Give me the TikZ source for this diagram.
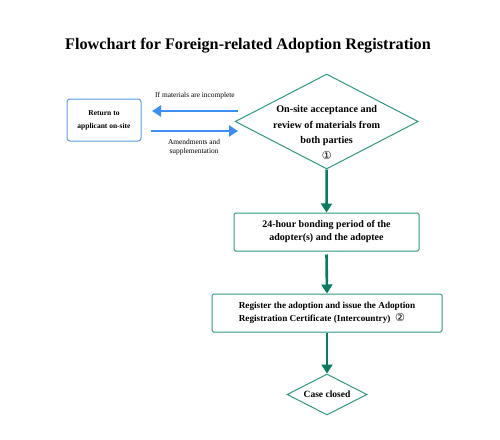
\documentclass[tikz,border=0pt]{standalone}
\usepackage{fontspec}
\setmainfont{Liberation Serif}
\newfontfamily\circfont{DejaVu Sans}
\usetikzlibrary{shapes.geometric,arrows.meta}
\definecolor{tealbox}{HTML}{2E9880}
\definecolor{tealarr}{HTML}{0B7A5E}
\definecolor{bluebox}{HTML}{5B9BE8}
\definecolor{bluearr}{HTML}{3D8EF0}
\tikzset{
  tealrect/.style={draw=tealbox, line width=1pt, rounded corners=1.5pt, fill=white, font=\fontsize{9.5}{13}\selectfont\bfseries, align=center},
  tealdiam/.style={draw=tealbox, line width=1pt, diamond, fill=white, inner sep=0pt},
  flowarr/.style={draw=tealarr, line width=2.6pt, -{Triangle[width=11pt,length=9pt]}},
  bluearrow/.style={draw=bluearr, line width=2.6pt, -{Triangle[width=11pt,length=9pt]}},
  smalllbl/.style={font=\fontsize{7.4}{9.5}\selectfont, align=center}
}
\begin{document}
\begin{tikzpicture}[x=1pt,y=-1pt]
\useasboundingbox (0,0) rectangle (500,439);
\node[font=\fontsize{16.2}{18}\selectfont\bfseries] (title) at (248,46) {Flowchart for Foreign-related Adoption Registration};

% left box
\node[draw=bluebox, line width=1pt, rounded corners=3pt, minimum width=74pt, minimum height=42pt, inner sep=0pt, align=center, font=\fontsize{7.5}{13}\selectfont\bfseries] (ret) at (104,120) {Return to\\applicant on-site};

% diamond 1
\node[tealdiam, minimum width=183pt, minimum height=95pt] (d1) at (326.7,121.5) {};
\node[font=\fontsize{10.2}{15.5}\selectfont\bfseries, align=center, inner sep=0pt] (d1t) at (326.7,132.5) {On-site acceptance and\\review of materials from\\both parties\\{\circfont\mdseries\fontsize{11}{15.5}\selectfont ①}};

% blue arrows
\coordinate (a1s) at (238,111);
\coordinate (a1e) at (152,111);
\coordinate (a2s) at (151,131);
\coordinate (a2e) at (238,131);
\draw[bluearrow] (a1s) -- (a1e);
\draw[bluearrow] (a2s) -- (a2e);
\node[smalllbl] (l1) at (195,96) {If materials are incomplete};
\node[smalllbl] (l2) at (194,147) {Amendments and\\supplementation};

% box 2
\node[tealrect, minimum width=185pt, minimum height=38pt, inner sep=0pt, font=\fontsize{10}{13}\selectfont\bfseries] (b2) at (326.5,232) {24-hour bonding period of the\\adopter(s) and the adoptee};

% box 3
\node[tealrect, minimum width=230pt, minimum height=38pt, inner sep=0pt, align=left, font=\fontsize{9.2}{13}\selectfont\bfseries] (b3) at (327,313) {Register the adoption and issue the Adoption\\Registration Certificate (Intercountry)\ \ {\circfont\mdseries\fontsize{11}{13}\selectfont ②}};

% diamond 2
\node[tealdiam, minimum width=80pt, minimum height=41pt] (d2) at (327,394.5) {};
\node[font=\fontsize{9.5}{13}\selectfont\bfseries, inner sep=0pt] (d2t) at (d2) {Case closed};

% teal arrows
\draw[flowarr] (d1.south) -- (b2.north);
\draw[flowarr] ([yshift=-3pt]b2.south) -- (b3.north);
\draw[flowarr] (b3.south) -- (d2.north);
\end{tikzpicture}
\end{document}
